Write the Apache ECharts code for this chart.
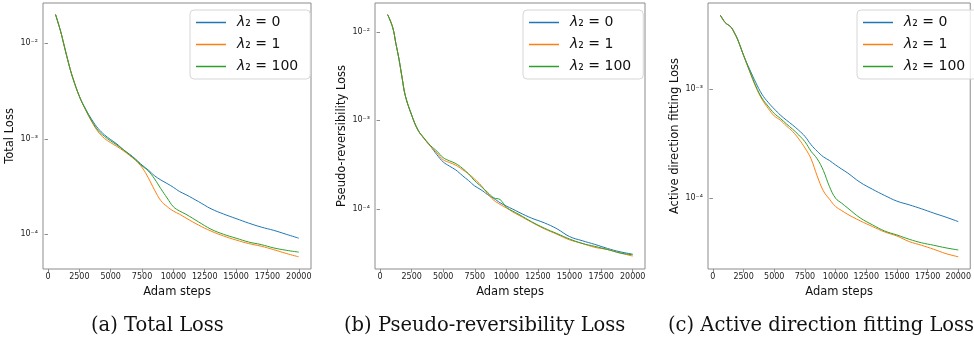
<!DOCTYPE html>
<html lang="en">
<head>
    <meta charset="UTF-8">
    <script src="https://cdn.jsdelivr.net/npm/echarts@6/dist/echarts.min.js"></script>
    <title>Loss curves</title>
    <style>
        body { margin: 0; background: #fff; }
    </style>
</head>
<body>
    <div id="main" style="width: 974px;height:341px;"></div>

    <script>
        // Adam step at which each value was read
        var steps = [600, 1000, 1250, 1500, 1750, 2000, 2500, 3000, 3500, 4000, 4500, 5000, 5500, 6000, 6500, 7000, 7500,
            8000, 8500, 9000, 9500, 10000, 10500, 11000, 12000, 13000, 14000, 15000, 16000, 17000, 18000, 19000, 20000];
        var xTicks = [0, 2500, 5000, 7500, 10000, 12500, 15000, 17500, 20000];

        // (a) total loss
        var total0 = [0.0200, 0.0134, 0.0099, 0.0073, 0.00546, 0.00425, 0.00278, 0.00205, 0.00158, 0.00128, 0.00110, 0.00098, 0.00088,
            0.00077, 0.00069, 0.00061, 0.00053, 0.00047, 0.00041, 0.00037, 0.00034, 0.00031, 0.00028, 0.00026, 0.00022, 0.000185,
            0.000163, 0.000146, 0.000131, 0.000119, 0.000110, 0.000100, 0.000091];
        var total1 = [0.0200, 0.0134, 0.0099, 0.0073, 0.00546, 0.00425, 0.00278, 0.00200, 0.00150, 0.00118, 0.00101, 0.00091, 0.00083,
            0.00075, 0.00067, 0.00059, 0.00050, 0.00039, 0.00029, 0.000225, 0.000195, 0.000175, 0.000162, 0.000148, 0.000125, 0.000108,
            0.000096, 0.000087, 0.000080, 0.000075, 0.000069, 0.000063, 0.000058];
        var total100 = [0.0200, 0.0134, 0.0099, 0.0073, 0.00546, 0.00425, 0.00278, 0.00202, 0.00153, 0.00122, 0.00106, 0.00095, 0.00086,
            0.00077, 0.00068, 0.00060, 0.00052, 0.00046, 0.00038, 0.00030, 0.00024, 0.000194, 0.000175, 0.000162, 0.000135, 0.000113,
            0.000100, 0.000091, 0.000083, 0.000078, 0.000072, 0.000068, 0.000065];

        // (b) pseudo-reversibility loss
        var rev0 = [0.0156, 0.0112, 0.0074, 0.0049, 0.0030, 0.0019, 0.00115, 0.00078, 0.00062, 0.00051, 0.00041, 0.00034, 0.000305,
            0.000276, 0.00024, 0.00021, 0.000182, 0.000165, 0.000146, 0.000132, 0.000118, 0.000108, 0.000100, 0.000092, 0.000079,
            0.000070, 0.000060, 0.000049, 0.000044, 0.000040, 0.000036, 0.000033, 0.000031];
        var rev1 = [0.0156, 0.0112, 0.0074, 0.0049, 0.0030, 0.0019, 0.00115, 0.00078, 0.00062, 0.00051, 0.00043, 0.00036, 0.000335,
            0.000312, 0.00028, 0.00025, 0.000217, 0.000185, 0.000150, 0.000126, 0.000113, 0.000103, 0.000093, 0.000085, 0.000071,
            0.000060, 0.000052, 0.000045, 0.000041, 0.000037, 0.000035, 0.000032, 0.0000295];
        var rev100 = [0.0156, 0.0112, 0.0074, 0.0049, 0.0030, 0.0019, 0.00115, 0.00078, 0.00063, 0.00052, 0.00045, 0.00038, 0.00035,
            0.000326, 0.00029, 0.00025, 0.000208, 0.000180, 0.000155, 0.000134, 0.000128, 0.000105, 0.000095, 0.000087, 0.000072,
            0.000061, 0.000053, 0.000046, 0.000041, 0.000038, 0.000035, 0.000032, 0.0000305];

        // (c) active direction fitting loss
        var adf0 = [0.0048, 0.0041, 0.0039, 0.0037, 0.0033, 0.0029, 0.00205, 0.00152, 0.00115, 0.00090, 0.00076, 0.00066, 0.00058,
            0.00052, 0.00047, 0.00042, 0.00037, 0.00031, 0.00027, 0.00024, 0.000222, 0.000202, 0.000185, 0.000170, 0.000140, 0.000121,
            0.000106, 0.000094, 0.000087, 0.000080, 0.000073, 0.000067, 0.000061];
        var adf1 = [0.0048, 0.0041, 0.0039, 0.0037, 0.0033, 0.0029, 0.00205, 0.00145, 0.00105, 0.00081, 0.00067, 0.00057, 0.00052,
            0.00046, 0.00041, 0.00035, 0.00029, 0.00023, 0.00016, 0.000117, 0.000098, 0.000084, 0.000077, 0.000071, 0.000062, 0.000055,
            0.000049, 0.000045, 0.000040, 0.000037, 0.000034, 0.000031, 0.000029];
        var adf100 = [0.0048, 0.0041, 0.0039, 0.0037, 0.0033, 0.0029, 0.00205, 0.00147, 0.00107, 0.00083, 0.00070, 0.00060, 0.00054,
            0.00048, 0.00043, 0.00038, 0.00033, 0.00027, 0.00023, 0.00018, 0.000128, 0.000100, 0.000090, 0.000081, 0.000066, 0.000057,
            0.000050, 0.000046, 0.000042, 0.000039, 0.000037, 0.000035, 0.0000335];

        var names = ['l0', 'l1', 'l100'];
        var legendLabels = { l0: '{i|λ}₂ = 0', l1: '{i|λ}₂ = 1', l100: '{i|λ}₂ = 100' };
        var colors = ['#1f77b4', '#ff7f0e', '#2ca02c'];
        var yNames = ['Total Loss', 'Pseudo-reversibility Loss', 'Active direction fitting Loss'];
        var captions = ['(a) Total Loss', '(b) Pseudo-reversibility Loss', '(c) Active direction fitting Loss'];
        var allSeries = [[total0, total1, total100], [rev0, rev1, rev100], [adf0, adf1, adf100]];

        var gridPos = [{ left: 43, width: 268 }, { left: 375, width: 270 }, { left: 708, width: 267 }];
        var yRange = [[4.33e-5, 0.0264], [2.11e-5, 0.0211], [2.24e-5, 0.0062]];
        var legendLeft = [190, 523, 857];
        var captionLeft = [91, 344, 668];

        var supMap = { '-': '⁻', '0': '⁰', '1': '¹', '2': '²', '3': '³', '4': '⁴', '5': '⁵', '6': '⁶', '7': '⁷', '8': '⁸', '9': '⁹' };
        function powLabel(v) {
            var e = Math.log10(v);
            var r = Math.round(e);
            if (Math.abs(e - r) > 1e-6) return '';
            return '10' + String(r).split('').map(function (c) { return supMap[c]; }).join('');
        }

        var grids = [], xAxes = [], yAxes = [], series = [], legends = [], titles = [];
        for (var k = 0; k < 3; k++) {
            grids.push({
                left: gridPos[k].left, width: gridPos[k].width, top: 3, height: 266,
                show: true, borderColor: '#8c8c8c', borderWidth: 1
            });
            xAxes.push({
                type: 'value', gridIndex: k, min: -400, max: 20975,
                name: 'Adam steps', nameLocation: 'middle', nameGap: 10,
                nameTextStyle: { fontSize: 11.5, color: '#111', fontFamily: 'DejaVu Sans' },
                axisLine: { show: false },
                splitLine: { show: false },
                axisTick: { show: true, length: 3.5, customValues: xTicks, lineStyle: { color: '#8c8c8c' } },
                axisLabel: {
                    customValues: xTicks, fontSize: 8, color: '#222', margin: 4, fontFamily: 'DejaVu Sans',
                    formatter: function (v) { return String(v); }
                }
            });
            yAxes.push({
                type: 'log', logBase: 10, gridIndex: k, min: yRange[k][0], max: yRange[k][1],
                name: yNames[k], nameLocation: 'middle', nameGap: k == 0 ? 23 : 21,
                nameTextStyle: { fontSize: 11.5, color: '#111', fontFamily: 'DejaVu Sans' },
                axisLine: { show: false },
                splitLine: { show: false },
                axisTick: { show: true, length: 3.5, lineStyle: { color: '#8c8c8c' } },
                axisLabel: {
                    fontSize: 8, color: '#222', margin: 5, fontFamily: 'DejaVu Sans',
                    showMinLabel: false, showMaxLabel: false, formatter: powLabel
                }
            });
            for (var j = 0; j < 3; j++) {
                var vals = allSeries[k][j];
                series.push({
                    name: names[j], type: 'line', xAxisIndex: k, yAxisIndex: k,
                    symbol: 'none', smooth: 0.4,
                    lineStyle: { width: 1, color: colors[j] }, itemStyle: { color: colors[j] },
                    data: steps.map(function (s, i) { return [s, vals[i]]; })
                });
            }
            legends.push({
                data: names, orient: 'vertical', left: legendLeft[k], top: 10,
                icon: 'rect', itemWidth: 30, itemHeight: 1.5, itemGap: 5,
                padding: [4, 12, 4, 6],
                backgroundColor: 'rgba(255,255,255,0.8)', borderColor: '#d6d6d6', borderWidth: 1, borderRadius: 4,
                formatter: function (n) { return legendLabels[n]; },
                textStyle: {
                    fontSize: 14, color: '#111', fontFamily: 'DejaVu Sans', lineHeight: 17, padding: [0, 0, 0, 6],
                    rich: { i: { fontSize: 14, fontStyle: 'italic', fontFamily: 'DejaVu Sans', color: '#111' } }
                }
            });
            titles.push({
                text: captions[k], left: captionLeft[k], top: 316, padding: 0,
                textStyle: { fontSize: 19.5, fontWeight: 'normal', color: '#111', fontFamily: 'DejaVu Serif' }
            });
        }

        var myChart = echarts.init(document.getElementById('main'));
        var option = {
            animation: false,
            title: titles,
            legend: legends,
            grid: grids,
            xAxis: xAxes,
            yAxis: yAxes,
            series: series
        };
        myChart.setOption(option);
    </script>
</body>
</html>
